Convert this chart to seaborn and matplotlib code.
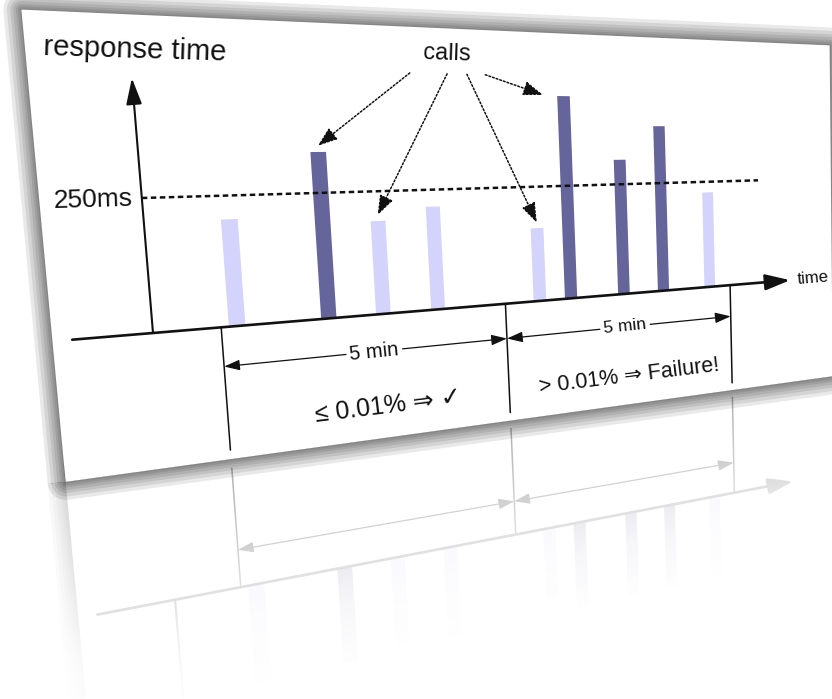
import numpy as np
import pandas as pd
import matplotlib
matplotlib.use("Agg")
import matplotlib.pyplot as plt
import matplotlib.transforms as mtransforms
from matplotlib.patches import Polygon
import seaborn as sns

# ---------------- data ----------------
call_time_min = [0.25, 1.75, 2.7, 3.7, 5.7, 6.35, 7.5, 8.4, 9.5]
response_ms = [205, 330, 190, 215, 160, 445, 305, 380, 225]
threshold_ms = 250
window_edges_min = [0, 5, 10]
window_labels = ["5 min", "5 min"]
window_verdicts = ["≤ 0.01% ⇒ ✓", "> 0.01% ⇒ Failure!"]
threshold_label = "250ms"
y_label = "response time"
x_label = "time"
callout_label = "calls"
callout_bars = [1, 2, 4, 5]

# ---------------- style ----------------
LIGHT = "#d3d3fb"
DARK = "#65659c"
INK = "#111111"

sns.set_theme(style="white")
plt.rcParams["font.family"] = ["Liberation Sans", "DejaVu Sans"]

W, H = 832, 699
fig = plt.figure(figsize=(W / 100, H / 100), dpi=100)
ax = fig.add_axes([0, 0, 1, 1])

# ---------------- perspective layout (flat chart -> picture) ----------------
VPH = (2650.0, 126.0)     # horizontal vanishing point
VPV = (922.0, 9617.0)     # vertical vanishing point
ORIG = (153.0, 333.0)     # foot of the response-time axis
A_MIN = 0.027252
B_MS = -5.733e-5
U0 = -1.03                # position of the response-time axis (min)
M = np.array([
    [VPH[0] * A_MIN, VPV[0] * B_MS, ORIG[0] - VPH[0] * A_MIN * U0],
    [VPH[1] * A_MIN, VPV[1] * B_MS, ORIG[1] - VPH[1] * A_MIN * U0],
    [A_MIN, B_MS, 1 - A_MIN * U0],
])
CARD_U = (-2.45, 12.67)
CARD_V = (-258.0, 579.0)
MIRROR = np.array([[1, 0, 0], [0, -1, 2 * CARD_V[0]], [0, 0, 1.0]])
Y_TOP = 466
X_START, X_END = -2.18, 11.54
THR_END = 10.75
TICK_LOW = -240
DIM_V = -76
VERDICT_V = -193
BAR_W = 0.26


class Persp(mtransforms.Transform):
    input_dims = 2
    output_dims = 2
    is_separable = False
    has_inverse = True

    def __init__(self, mat):
        super().__init__()
        self.mat = np.asarray(mat, float)

    def transform_non_affine(self, values):
        v = np.asarray(values, float).reshape(-1, 2)
        h = v @ self.mat[:, :2].T + self.mat[:, 2]
        return h[:, :2] / h[:, 2:3]

    def inverted(self):
        return Persp(np.linalg.inv(self.mat))


T = Persp(M) + ax.transData
R = Persp(M @ MIRROR) + ax.transData

# ---------------- bars via seaborn ----------------
df = pd.DataFrame({
    "t": call_time_min,
    "rt": response_ms,
    "cls": np.where(np.array(response_ms) > threshold_ms, "slow", "ok"),
})
bar_width = BAR_W / np.diff(np.sort(call_time_min)).min()


def bars(tr, z):
    n0 = len(ax.patches)
    sns.barplot(data=df, x="t", y="rt", hue="cls", palette={"ok": LIGHT, "slow": DARK},
                native_scale=True, dodge=False, width=bar_width, errorbar=None,
                saturation=1, legend=False, linewidth=0, orient="x", ax=ax)
    for p in ax.patches[n0:]:
        p.set_transform(tr)
        p.set_zorder(z)


bars(R, 1)
bars(T, 5)

ax.set_xlim(0, W)
ax.set_ylim(H, 0)
ax.axis("off")

# ---------------- card, shadow ----------------
card = [(CARD_U[0], CARD_V[0]), (CARD_U[0], CARD_V[1]),
        (CARD_U[1], CARD_V[1]), (CARD_U[1], CARD_V[0])]
for tr, z in ((T, 3), (R, 0.5)):
    for lw in (2, 5, 8, 12, 16, 21, 26):
        ax.add_patch(Polygon(card, closed=True, fill=False, ec="black", lw=lw,
                             alpha=0.085, joinstyle="round", transform=tr, zorder=z))
    ax.add_patch(Polygon(card, closed=True, fc="white", ec="none", transform=tr,
                         zorder=z + 0.1))


def frame(tr, z):
    kw = dict(xycoords=tr, textcoords=tr, annotation_clip=False, zorder=z)
    ax.annotate("", xy=(U0, Y_TOP), xytext=(U0, 0),
                arrowprops=dict(arrowstyle="-|>,head_length=0.8,head_width=0.24",
                                mutation_scale=20, lw=1.5, color=INK,
                                shrinkA=0, shrinkB=0), **kw)
    ax.annotate("", xy=(X_END, 0), xytext=(X_START, 0),
                arrowprops=dict(arrowstyle="-|>,head_length=0.75,head_width=0.24",
                                mutation_scale=20, lw=1.9, color=INK,
                                shrinkA=0, shrinkB=0), **kw)
    ax.plot([U0, THR_END], [threshold_ms, threshold_ms], transform=tr, color=INK,
            lw=1.8, ls=(0, (2.2, 1.4)), zorder=z + 0.05)
    for e in window_edges_min:
        ax.plot([e, e], [0, TICK_LOW], transform=tr, color=INK, lw=1.1, zorder=z)
    for e0, e1 in zip(window_edges_min[:-1], window_edges_min[1:]):
        ax.annotate("", xy=(e1, DIM_V), xytext=(e0, DIM_V),
                    arrowprops=dict(arrowstyle="<|-|>,head_length=0.95,head_width=0.32",
                                    mutation_scale=10, lw=0.9, color=INK,
                                    shrinkA=0, shrinkB=0), **kw)


frame(R, 1.2)
frame(T, 6)

# ---------------- fading of the reflection ----------------
yy, xx = np.mgrid[0:H, 0:W] + 0.5
hom = np.linalg.inv(M) @ np.stack([xx.ravel(), yy.ravel(), np.ones(xx.size)])
vflat = (hom[1] / hom[2]).reshape(H, W)
d = CARD_V[0] - vflat
alpha = np.where(d > 0, np.interp(d, [0, 260, 330, 460], [0.66, 0.88, 0.95, 1.0]), 0)
rgba = np.ones((H, W, 4))
rgba[..., 3] = alpha
ax.imshow(rgba, extent=(0, W, H, 0), zorder=2, aspect="auto", interpolation="nearest")
ax.set_xlim(0, W)
ax.set_ylim(H, 0)


# ---------------- texts ----------------
def angle_at(u, v, du=0.3):
    p = T.transform(np.array([[u, v], [u + du, v]]))
    return np.degrees(np.arctan2(p[1, 1] - p[0, 1], p[1, 0] - p[0, 0]))


def ftext(u, v, s, size, ha="center", va="center", **kw):
    ax.text(u, v, s, transform=T, fontsize=size, ha=ha, va=va, color=INK,
            rotation=angle_at(u, v), rotation_mode="anchor", zorder=8, **kw)


ftext(-2.21, 516, y_label, 21, ha="left")
ftext(U0 - 0.13, threshold_ms, threshold_label, 19, ha="right")
ftext(X_END + 0.18, 0, x_label, 12, ha="left")
calls_u, calls_v = 4.11, 527
ftext(calls_u, calls_v, callout_label, 17)

for (e0, e1), lab, size in zip(zip(window_edges_min[:-1], window_edges_min[1:]),
                               window_labels, (14.5, 12.5)):
    ftext((e0 + e1) / 2, DIM_V, lab, size,
          bbox=dict(fc="white", ec="none", pad=2.5))
for uc, lab, size in zip((2.7, 7.55), window_verdicts, (18, 15.5)):
    ftext(uc, VERDICT_V, lab, size)

# ---------------- call-outs ----------------
starts_du = [-0.7, -0.02, 0.35, 0.7]
tip_off = [(0.0, 12), (0.0, 12), (0.0, 12), (-0.42, 2)]
for i, du, (ou, ov) in zip(callout_bars, starts_du, tip_off):
    ax.annotate("", xy=(call_time_min[i] + ou, response_ms[i] + ov),
                xytext=(calls_u + du, 487), xycoords=T, textcoords=T,
                annotation_clip=False, zorder=7,
                arrowprops=dict(arrowstyle="-|>,head_length=1.0,head_width=0.36",
                                mutation_scale=12, lw=1.1, ls=(0, (1.2, 1.3)),
                                color=INK, shrinkA=0, shrinkB=0))

fig.savefig("out.png", dpi=100)
